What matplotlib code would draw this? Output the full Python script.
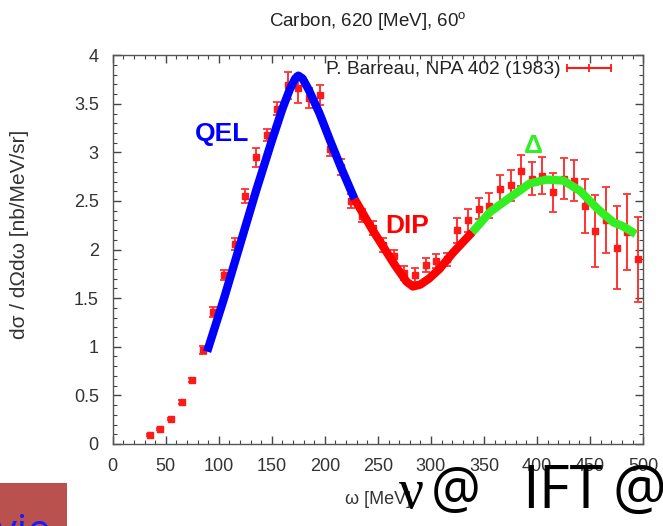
import matplotlib
matplotlib.use("Agg")
import matplotlib.pyplot as plt
from matplotlib.lines import Line2D
from matplotlib.patches import Rectangle
from matplotlib.ticker import MultipleLocator, FuncFormatter

plt.rcParams["font.family"] = ["Liberation Sans", "DejaVu Sans"]

# -----------------------------
# Data
# -----------------------------
omega = [35, 45, 55, 65, 75, 85, 95, 105, 115, 125, 135, 145, 155, 165, 175,
         185, 195, 205, 215, 225, 235, 245, 255, 265, 275, 285, 295, 305, 315,
         325, 335, 345, 355, 365, 375, 385, 395, 405, 415, 425, 435, 445, 455,
         465, 475, 485, 495]
xsec = [0.09, 0.15, 0.26, 0.43, 0.66, 0.97, 1.36, 1.74, 2.06, 2.55, 2.95, 3.18,
        3.45, 3.69, 3.66, 3.56, 3.59, 3.04, 2.85, 2.50, 2.35, 2.22, 2.05, 1.93,
        1.76, 1.74, 1.84, 1.88, 1.90, 2.20, 2.30, 2.42, 2.45, 2.62, 2.66, 2.81,
        2.73, 2.76, 2.59, 2.73, 2.71, 2.45, 2.19, 2.30, 2.02, 2.18, 1.90]
xsec_err = [0.01, 0.01, 0.01, 0.02, 0.02, 0.04, 0.05, 0.05, 0.06, 0.07, 0.10,
            0.06, 0.07, 0.14, 0.15, 0.10, 0.10, 0.08, 0.08, 0.07, 0.07, 0.07,
            0.07, 0.07, 0.07, 0.07, 0.07, 0.07, 0.07, 0.13, 0.12, 0.11, 0.13,
            0.15, 0.16, 0.16, 0.17, 0.19, 0.20, 0.21, 0.21, 0.28, 0.37, 0.34,
            0.43, 0.39, 0.44]

qel_w = [89, 105, 120, 135, 150, 160, 167, 172, 175, 179, 185, 195, 205, 215, 228]
qel_y = [0.95, 1.50, 2.05, 2.60, 3.12, 3.45, 3.65, 3.76, 3.79, 3.76, 3.64, 3.40,
         3.12, 2.85, 2.52]

dip_w = [228, 245, 255, 266, 277, 283, 290, 298, 308, 321, 339]
dip_y = [2.52, 2.20, 2.03, 1.84, 1.67, 1.62, 1.64, 1.70, 1.80, 1.97, 2.18]

delta_w = [339, 356, 375, 393, 409, 425, 441, 457, 472, 481, 493]
delta_y = [2.18, 2.39, 2.54, 2.68, 2.72, 2.71, 2.60, 2.42, 2.28, 2.24, 2.16]

fig = plt.figure(figsize=(6.63, 5.26), dpi=100)
ax = fig.add_axes([0.170, 0.156, 0.800, 0.739])

ax.errorbar(omega, xsec, yerr=xsec_err, fmt="s", ms=3.8, color="#ff1a1a",
            ecolor="#ff3333", elinewidth=1.4, capsize=3.2, capthick=1.3, zorder=2)

ax.plot(qel_w, qel_y, color="#0000ff", lw=6, solid_capstyle="butt",
        solid_joinstyle="round", zorder=3)
ax.plot(dip_w, dip_y, color="#ff0000", lw=6, solid_capstyle="butt",
        solid_joinstyle="round", zorder=3)
ax.plot(delta_w, delta_y, color="#33ee22", lw=6, solid_capstyle="butt",
        solid_joinstyle="round", zorder=3)

ax.text(103, 3.19, "QEL", color="#0000ff", fontsize=19, fontweight="bold",
        ha="center", va="center")
ax.text(278, 2.24, "DIP", color="#ff0000", fontsize=19, fontweight="bold",
        ha="center", va="center")
ax.text(397, 3.07, "Δ", color="#33ee22", fontsize=19, fontweight="bold",
        ha="center", va="center")

proxy = Line2D([], [], color="#ff1a1a", lw=1.5, marker="|", markersize=6,
               markeredgewidth=1.3)
ax.legend([proxy], ["P. Barreau, NPA 402 (1983)"], loc="upper right",
          bbox_to_anchor=(0.951, 0.985), frameon=False, markerfirst=False,
          numpoints=3, handlelength=2.9, fontsize=13.8, borderaxespad=0,
          borderpad=0, handletextpad=0.05, labelcolor="#222222")

ax.set_xlim(0, 500)
ax.set_ylim(0, 4)
ax.xaxis.set_major_locator(MultipleLocator(50))
ax.xaxis.set_minor_locator(MultipleLocator(10))
ax.yaxis.set_major_locator(MultipleLocator(0.5))
ax.yaxis.set_minor_locator(MultipleLocator(0.1))
ax.yaxis.set_major_formatter(FuncFormatter(lambda v, p: f"{v:g}"))
ax.tick_params(which="both", direction="in", top=True, right=True,
               colors="#444444", labelcolor="#333333", labelsize=13)
ax.tick_params(which="major", length=6, width=1)
ax.tick_params(which="minor", length=3, width=0.8)
ax.tick_params(axis="x", which="major", pad=10)
ax.tick_params(axis="y", which="major", pad=10)
for s in ax.spines.values():
    s.set_color("#555555")
    s.set_linewidth(1)

ax.set_title("Carbon, 620 [MeV], 60$^{\\mathregular{o}}$", fontsize=13.5,
             color="#222222", pad=20, x=0.48)
ax.set_xlabel("ω [MeV]", fontsize=13, color="#333333", labelpad=12)
ax.set_ylabel("dσ / dΩdω [nb/MeV/sr]", fontsize=15, color="#333333")
ax.yaxis.set_label_coords(-0.157, 0.54)

# slide decorations around the chart
fig.patches.append(Rectangle((0, 0), 67 / 663, 43 / 526, transform=fig.transFigure,
                             facecolor="#b9524f", edgecolor="none", zorder=0))
fig.text(-4 / 663, -18 / 526, "vie", color="#1a1aff", fontsize=30,
         family="Open Sans", ha="left", va="baseline")
fig.text(399 / 663, 18 / 526, "ν", color="black", fontsize=40,
         family="Liberation Serif", ha="left", va="baseline")
fig.text(431 / 663, 18 / 526, "@", color="black", fontsize=40,
         family="Open Sans", ha="left", va="baseline")
fig.text(522 / 663, 18 / 526, "IFT", color="black", fontsize=43,
         family="Open Sans", ha="left", va="baseline")
fig.text(613 / 663, 18 / 526, "@", color="black", fontsize=43,
         family="Open Sans", ha="left", va="baseline")

fig.savefig("out.png", dpi=100)
